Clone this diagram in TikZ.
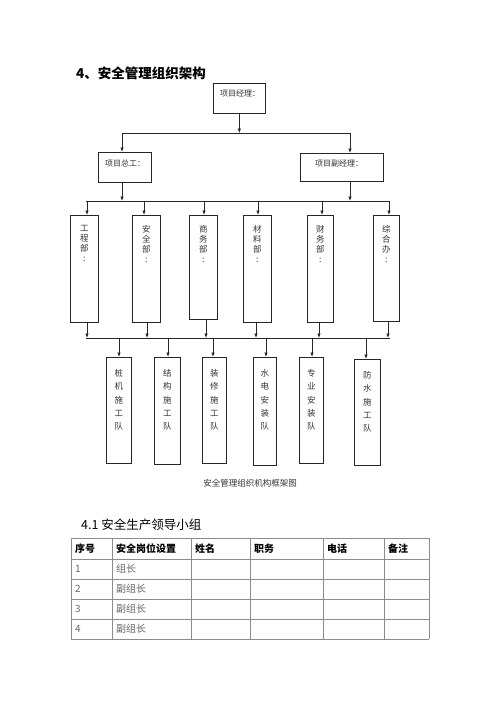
\documentclass[tikz,border=0pt]{standalone}
\usepackage{fontspec}
\setmainfont{Liberation Serif}
\newfontfamily\cjk{Noto Sans CJK SC}
\usetikzlibrary{arrows.meta}
\tikzset{
  box/.style={draw=black!85, line width=0.7pt, anchor=north west, inner sep=0pt},
  arr/.style={-{Latex[length=4.5pt,width=3.5pt]}, line width=0.7pt, draw=black!85},
  ln/.style={line width=0.7pt, draw=black!85},
  lbl/.style={inner sep=0pt, font=\cjk\fontsize{8}{10}\selectfont, text=black!80},
  vt/.style={inner sep=0pt, align=center, font=\cjk\fontsize{8.5}{10}\selectfont, text=black!80, anchor=north},
  vtt/.style={inner sep=0pt, align=center, font=\cjk\fontsize{8.5}{13.4}\selectfont, text=black!80, anchor=north},
  tl/.style={draw=black!45, line width=0.7pt},
  th/.style={inner sep=0pt, anchor=west, font=\cjk\bfseries\fontsize{10}{12}\selectfont},
  td/.style={inner sep=0pt, anchor=west, font=\cjk\fontsize{10}{12}\selectfont, text=black!60},
}
\newcommand\bx[5]{\node[box, minimum width={(#4-#2)*1pt}, minimum height={(#5-#3)*1pt}] (#1) at (#2,#3) {};}
\begin{document}
\begin{tikzpicture}[x=1pt,y=-1pt]
\useasboundingbox[fill=white] (0,0) rectangle (500,707);
% title
\node[inner sep=0pt, anchor=west, font=\cjk\bfseries\fontsize{13.5}{15}\selectfont] (title) at (76,73) {4、安全管理组织架构};
% top boxes
\bx{pm}{213}{83}{265}{113}
\node[lbl, anchor=west] (pmt) at (220,93) {项目经理：};
\bx{zg}{98}{152}{151}{182}
\node[lbl, anchor=west] (zgt) at (105,163) {项目总工：};
\bx{fz}{300}{153}{383}{181}
\node[lbl, anchor=west] (fzt) at (315,163) {项目副经理：};
% bar 1
\coordinate (b1L) at (122,133);
\coordinate (b1R) at (350,133);
\draw[ln] (b1L) -- (b1R);
\draw[arr] (pm.south) -- (pm.south |- b1L);
\draw[arr] (b1L) -- (b1L |- zg.north);
\draw[arr] (b1R) -- (b1R |- fz.north);
% bar 2
\coordinate (b2L) at (86,201);
\coordinate (b2R) at (390,201);
\draw[ln] (b2L) -- (b2R);
\draw[arr] (b1L |- zg.south) -- (b1L |- b2L);
\draw[arr] (b1R |- fz.south) -- (b1R |- b2L);
% departments
\bx{d1}{70}{215}{98}{322}
\bx{d2}{132}{215}{160}{322}
\bx{d3}{189}{215}{217}{319}
\bx{d4}{243}{215}{271}{322}
\bx{d5}{307}{215}{333}{322}
\bx{d6}{373}{215}{399}{321}
\node[vt] (d1t) at ([yshift=-10pt]d1.north) {工\\程\\部\\:};
\node[vt] (d2t) at ([yshift=-10pt]d2.north) {安\\全\\部\\:};
\node[vt] (d3t) at ([yshift=-10pt]d3.north) {商\\务\\部\\:};
\node[vt] (d4t) at ([yshift=-10pt]d4.north) {材\\料\\部\\:};
\node[vt] (d5t) at ([yshift=-10pt]d5.north) {财\\务\\部\\:};
\node[vt] (d6t) at ([yshift=-10pt]d6.north) {综\\合\\办\\:};
\foreach \i/\x in {1/87,2/144,3/204,4/258,5/322,6/389}{
  \coordinate (u\i) at (\x,201);
  \draw[arr] (u\i) -- (u\i |- d\i.north);
}
% bar 3
\coordinate (b3L) at (86,338);
\coordinate (b3R) at (390,338);
\draw[ln] (b3L) -- (b3R);
\foreach \i/\x in {1/87,2/147,3/206,4/256,5/319,6/388}{
  \coordinate (v\i) at (\x,338);
  \draw[arr] (v\i |- d\i.south) -- (v\i);
}
% teams
\bx{t1}{106}{357}{131}{463}
\bx{t2}{154}{357}{180}{464}
\bx{t3}{202}{357}{226}{463}
\bx{t4}{253}{357}{276}{465}
\bx{t5}{299}{357}{323}{463}
\bx{t6}{354}{359}{380}{465}
\node[vtt] (t1t) at ([yshift=-12pt]t1.north) {桩\\机\\施\\工\\队};
\node[vtt] (t2t) at ([yshift=-12pt]t2.north) {结\\构\\施\\工\\队};
\node[vtt] (t3t) at ([yshift=-12pt]t3.north) {装\\修\\施\\工\\队};
\node[vtt] (t4t) at ([yshift=-12pt]t4.north) {水\\电\\安\\装\\队};
\node[vtt] (t5t) at ([yshift=-12pt]t5.north) {专\\业\\安\\装\\队};
\node[vtt] (t6t) at ([yshift=-12pt]t6.north) {防\\水\\施\\工\\队};
\foreach \i/\x in {1/119,2/168,3/213,4/266,5/312,6/366}{
  \coordinate (w\i) at (\x,338);
  \draw[arr] (w\i) -- (w\i |- t\i.north);
}
% caption
\node[inner sep=0pt, font=\cjk\fontsize{8.5}{10}\selectfont, text=black!80] (cap) at (250,483) {安全管理组织机构框架图};
% table heading
\node[inner sep=0pt, anchor=west, font=\cjk\fontsize{12.5}{14}\selectfont] (h41) at (81,525) {4.1 安全生产领导小组};
% table
\foreach \y in {538,559,579,599,619,639}{ \draw[tl] (71,\y) -- (429,\y); }
\foreach \x in {71,112,191,250,323,384,429}{ \draw[tl] (\x,538) -- (\x,639); }
\node[th] (c1) at (75,548.5) {序号};
\node[th] (c2) at (116,548.5) {安全岗位设置};
\node[th] (c3) at (195,548.5) {姓名};
\node[th] (c4) at (254,548.5) {职务};
\node[th] (c5) at (327,548.5) {电话};
\node[th] (c6) at (388,548.5) {备注};
\node[td] (r1a) at (75,569) {1};
\node[td] (r1b) at (116,569) {组长};
\node[td] (r2a) at (75,589) {2};
\node[td] (r2b) at (116,589) {副组长};
\node[td] (r3a) at (75,609) {3};
\node[td] (r3b) at (116,609) {副组长};
\node[td] (r4a) at (75,629) {4};
\node[td] (r4b) at (116,629) {副组长};
\end{tikzpicture}
\end{document}
